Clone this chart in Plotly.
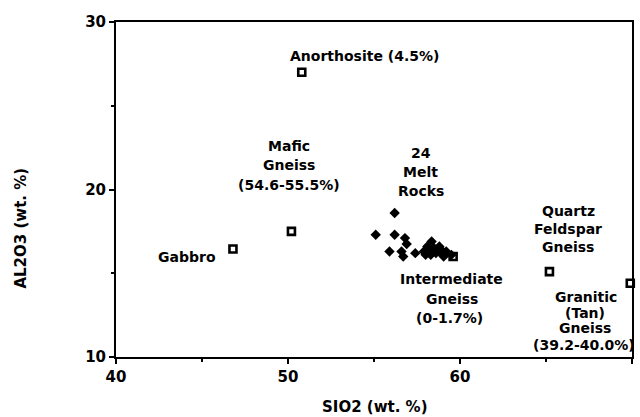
import plotly.graph_objects as go

# Reference samples (open squares)
sample_names = ["Anorthosite", "Mafic Gneiss", "Gabbro", "Quartz Feldspar Gneiss",
                "Granitic (Tan) Gneiss", "Intermediate Gneiss"]
sample_sio2 = [50.8, 50.2, 46.8, 65.2, 69.9, 59.6]
sample_al2o3 = [27.0, 17.5, 16.45, 15.1, 14.4, 16.0]

# 24 melt rocks (filled diamonds)
melt_sio2 = [56.2, 55.1, 56.2, 56.8, 56.9, 55.9, 56.6, 56.7, 57.4,
             58.35, 58.1, 57.9, 58.5, 58.8, 58.6, 58.9, 59.2, 59.5,
             58.3, 59.05, 58.7, 58.4, 58.9, 58.0]
melt_al2o3 = [18.6, 17.3, 17.3, 17.1, 16.75, 16.3, 16.3, 16.0, 16.2,
              16.9, 16.6, 16.3, 16.5, 16.6, 16.2, 16.2, 16.3, 16.1,
              16.1, 16.0, 16.45, 16.35, 16.4, 16.1]

# Label text lines and their anchor positions (data units)
label_text = ["Anorthosite (4.5%)",
              "Mafic", "Gneiss", "(54.6-55.5%)",
              "Gabbro",
              "24", "Melt", "Rocks",
              "Quartz", "Feldspar", "Gneiss",
              "Intermediate", "Gneiss", "(0-1.7%)",
              "Granitic", "(Tan)", "Gneiss", "(39.2-40.0%)"]
label_x = [54.42,
           50.08, 50.08, 50.08,
           44.11,
           57.72, 57.72, 57.72,
           66.29, 66.29, 66.29,
           59.52, 59.52, 59.40,
           67.35, 67.25, 67.25, 67.22]
label_y = [27.97,
           22.60, 21.46, 20.27,
           15.97,
           22.18, 21.04, 19.91,
           18.72, 17.64, 16.57,
           14.66, 13.46, 12.33,
           13.58, 12.63, 11.73, 10.72]

FONT = "DejaVu Sans"

fig = go.Figure()
fig.add_trace(go.Scatter(
    x=melt_sio2, y=melt_al2o3, mode="markers",
    marker=dict(symbol="diamond", size=8, color="black", line=dict(width=0)),
    showlegend=False, hoverinfo="skip"))
fig.add_trace(go.Scatter(
    x=sample_sio2, y=sample_al2o3, mode="markers", text=sample_names,
    marker=dict(symbol="square-open", size=7, color="black", line=dict(width=2.6, color="black")),
    showlegend=False, cliponaxis=False))

for t, x, y in zip(label_text, label_x, label_y):
    fig.add_annotation(x=x, y=y, xref="x", yref="y", text=t, showarrow=False,
                       font=dict(family=FONT, size=14, color="black", weight="bold"),
                       xanchor="center", yanchor="middle")

fig.add_annotation(x=0.5, y=-0.149, xref="paper", yref="paper", text="SIO2 (wt. %)",
                   showarrow=False, font=dict(family=FONT, size=15, color="black", weight="bold"),
                   xanchor="center", yanchor="middle")
fig.add_annotation(x=-0.185, y=0.385, xref="paper", yref="paper", text="AL2O3 (wt. %)",
                   showarrow=False, textangle=-90,
                   font=dict(family=FONT, size=15, color="black", weight="bold"),
                   xanchor="center", yanchor="middle")

axis_common = dict(showline=True, linecolor="black", linewidth=2, mirror=True,
                   showgrid=False, zeroline=False, ticks="outside", ticklen=5,
                   tickwidth=1.5, tickcolor="black",
                   tickfont=dict(family=FONT, size=15, color="black", weight="bold"))
fig.update_xaxes(range=[40, 70], tickvals=[40, 50, 60, 70],
                 minor=dict(tickvals=[45, 55, 65], ticks="outside", ticklen=3,
                            tickcolor="black", tickwidth=1.5), **axis_common)
fig.update_yaxes(range=[10, 30], tickvals=[10, 20, 30],
                 minor=dict(tickvals=[15, 25], ticks="outside", ticklen=3,
                            tickcolor="black", tickwidth=1.5), **axis_common)

fig.update_layout(width=640, height=417, margin=dict(l=116, r=6, t=22, b=60),
                  paper_bgcolor="white", plot_bgcolor="white",
                  font=dict(family=FONT, color="black"))
fig.write_html("out.html")
